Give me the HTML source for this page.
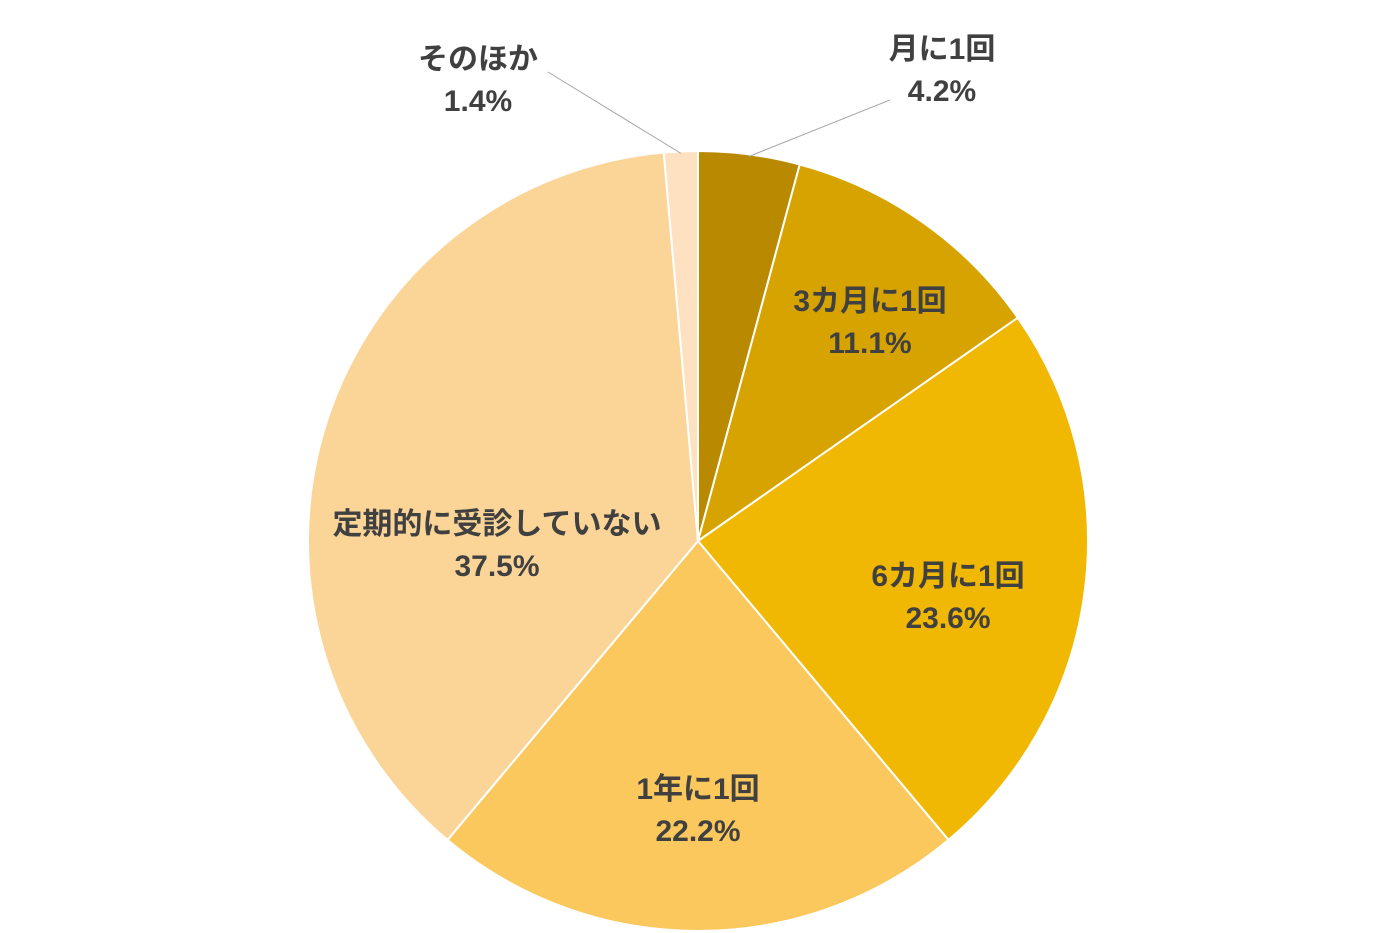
<!DOCTYPE html>
<html><head><meta charset="utf-8">
<style>
html,body{margin:0;padding:0;background:#fff;}
svg{display:block;}
text{font-family:"Liberation Sans","Noto Sans CJK JP",sans-serif;font-size:30px;fill:#404040;font-weight:bold;text-anchor:middle;}
</style></head>
<body>
<svg id="chart" width="1400" height="933"></svg>
<script>
const categories=["月に1回","3カ月に1回","6カ月に1回","1年に1回","定期的に受診していない","そのほか"];
const values=[4.2,11.1,23.6,22.2,37.5,1.4];
const valueLabels=["4.2%","11.1%","23.6%","22.2%","37.5%","1.4%"];
const colors=["#B98A00","#D6A300","#F0B802","#FAC85C","#FBD598","#FDE1C0"];
const cx=698,cy=541,r=390;
const labelPos=[[942,48],[870,300],[948,575],[698,788],[497,523],[478,58]];
const svg=document.getElementById('chart');
const NS="http://www.w3.org/2000/svg";
const total=values.reduce((a,b)=>a+b,0);
function pt(a,rr){return [cx+rr*Math.sin(a),cy-rr*Math.cos(a)];}
let acc=0;
const mids=[];
values.forEach((v,i)=>{
  const a0=acc/total*2*Math.PI;acc+=v;const a1=acc/total*2*Math.PI;
  const p0=pt(a0,r),p1=pt(a1,r);
  const large=(a1-a0)>Math.PI?1:0;
  const p=document.createElementNS(NS,'path');
  p.setAttribute('d',`M${cx},${cy}L${p0[0]},${p0[1]}A${r},${r} 0 ${large} 1 ${p1[0]},${p1[1]}Z`);
  p.setAttribute('fill',colors[i]);p.setAttribute('stroke','#fff');p.setAttribute('stroke-width','2');
  
  
  svg.appendChild(p);
  mids.push((a0+a1)/2);
});
const outside=[0,5];
values.forEach((v,i)=>{
  const x=labelPos[i][0],y=labelPos[i][1];
  if(outside.includes(i)){
    const e=pt(mids[i],r-2);
    const lx=i===0?890:548, ly=i===0?100:72;
    const l=document.createElementNS(NS,'line');
    l.setAttribute('x1',e[0]);l.setAttribute('y1',e[1]);l.setAttribute('x2',lx);l.setAttribute('y2',ly);
    l.setAttribute('stroke','#A6A6A6');l.setAttribute('stroke-width','1');
    
    
    svg.appendChild(l);
  }
  const t1=document.createElementNS(NS,'text');
  t1.setAttribute('x',x);t1.setAttribute('y',y+11);t1.textContent=categories[i];
  
  
  svg.appendChild(t1);
  const t2=document.createElementNS(NS,'text');
  t2.setAttribute('x',x);t2.setAttribute('y',y+53);t2.textContent=valueLabels[i];
  
  
  svg.appendChild(t2);
});
</script>
</body></html>
